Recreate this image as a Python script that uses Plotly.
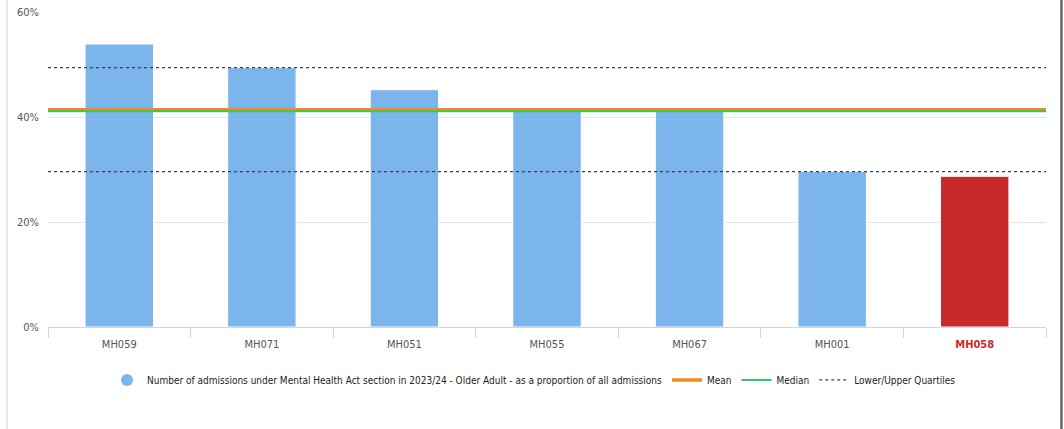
import plotly.graph_objects as go

# Providers and their proportion of older-adult admissions under a Mental Health Act section (%)
providers = ["MH059", "MH071", "MH051", "MH055", "MH067", "MH001", "MH058"]
proportions = [53.9, 49.4, 45.2, 41.1, 41.1, 29.6, 28.7]
highlight = "MH058"

# Benchmark statistics (%)
mean_value = 41.4
median_value = 41.1
lower_quartile = 29.6
upper_quartile = 49.4

y_ticks = [0, 20, 40, 60]
y_tick_labels = ["0%", "20%", "40%", "60%"]

series_name = ("Number of admissions under Mental Health Act section in 2023/24 - "
               "Older Adult - as a proportion of all admissions")

FONT = "DejaVu Sans Condensed, Liberation Sans Narrow, Arial Narrow, sans-serif"
BLUE = "#7cb5ec"
RED = "#c62a2a"

positions = list(range(len(providers)))
bar_colors = [RED if p == highlight else BLUE for p in providers]
x_span = [-0.5, len(providers) - 0.5]

fig = go.Figure()

fig.add_trace(go.Bar(
    x=positions, y=proportions, width=0.48,
    marker=dict(color=bar_colors, line=dict(color="white", width=1)),
    showlegend=False, hoverinfo="skip",
))

# Legend entry for the bar series, drawn as a circle
fig.add_trace(go.Scatter(
    x=[None], y=[None], mode="markers", name=series_name,
    marker=dict(symbol="circle", size=12, color=BLUE),
))

fig.add_trace(go.Scatter(
    x=x_span, y=[mean_value] * 2, mode="lines", name="Mean",
    line=dict(color="#f28a1c", width=3.5),
))
fig.add_trace(go.Scatter(
    x=x_span, y=[median_value] * 2, mode="lines", name="Median",
    line=dict(color="#35c46a", width=2),
))
fig.add_trace(go.Scatter(
    x=x_span, y=[upper_quartile] * 2, mode="lines", name="Lower/Upper Quartiles",
    line=dict(color="#3a4250", width=1.2, dash="dot"),
))
fig.add_trace(go.Scatter(
    x=x_span, y=[lower_quartile] * 2, mode="lines", showlegend=False,
    line=dict(color="#3a4250", width=1.2, dash="dot"),
))

tick_text = [
    f"<span style='color:{RED}'><b>{p}</b></span>" if p == highlight else p
    for p in providers
]

fig.update_layout(
    width=1064, height=429,
    margin=dict(l=48, r=18, t=12, b=102, autoexpand=False),
    paper_bgcolor="white", plot_bgcolor="white",
    font=dict(family=FONT, size=11, color="#666666"),
    bargap=0.52,
    xaxis=dict(
        range=x_span, tickmode="array", tickvals=positions, ticktext=tick_text,
        showgrid=False, zeroline=False, ticks="",
        showline=True, linecolor="#ccd6eb", linewidth=1,
        ticklabelstandoff=7,
        tickfont=dict(family=FONT, size=11, color="#555555"),
    ),
    xaxis2=dict(
        overlaying="x", side="bottom", range=x_span,
        tickmode="array", tickvals=[i - 0.5 for i in range(len(providers) + 1)],
        showticklabels=False, ticks="outside", ticklen=10, tickcolor="#ccd6eb",
        showgrid=False, zeroline=False, showline=False,
    ),
    yaxis=dict(
        range=[0, 60], tickmode="array", tickvals=y_ticks, ticktext=y_tick_labels,
        showgrid=True, gridcolor="#e6e6e6", gridwidth=1, zeroline=False,
        ticks="", ticklabelstandoff=8,
        tickfont=dict(family=FONT, size=11, color="#555555"),
    ),
    legend=dict(
        orientation="h", x=0.487, xanchor="center", y=-0.168, yanchor="middle",
        font=dict(family=FONT, size=10, color="#222222"),
        itemwidth=30, tracegroupgap=0, bgcolor="rgba(0,0,0,0)",
    ),
    shapes=[
        dict(type="line", xref="paper", yref="paper", x0=-0.041, x1=-0.041,
             y0=-0.33, y1=1.04, line=dict(color="#e0e0e0", width=1.5)),
        dict(type="line", xref="paper", yref="paper", x0=1.0155, x1=1.0155,
             y0=-0.33, y1=1.04, line=dict(color="#666666", width=2.5)),
    ],
)

# Invisible trace to activate the boundary-tick axis
fig.add_trace(go.Scatter(x=[None], y=[None], xaxis="x2", showlegend=False, hoverinfo="skip"))

fig.write_html("out.html")
